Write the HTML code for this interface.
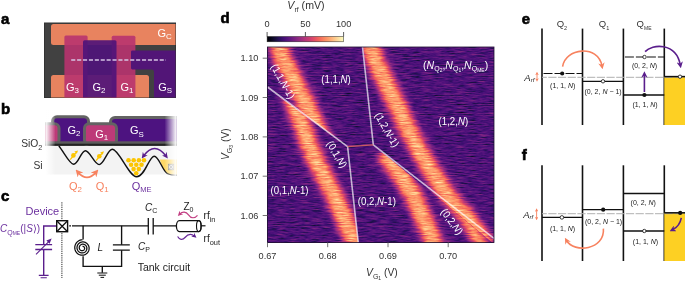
<!DOCTYPE html>
<html><head><meta charset="utf-8"><style>
html,body{margin:0;padding:0;background:#fff;}
svg{display:block;will-change:transform;}
</style></head><body>
<svg width="685" height="281" viewBox="0 0 685 281">
<defs>
<linearGradient id="cbar" x1="0" x2="1" y1="0" y2="0">
<stop offset="0.00" stop-color="rgb(0,0,3)"/><stop offset="0.05" stop-color="rgb(6,5,25)"/><stop offset="0.10" stop-color="rgb(20,13,54)"/><stop offset="0.15" stop-color="rgb(37,17,85)"/><stop offset="0.20" stop-color="rgb(59,15,111)"/><stop offset="0.25" stop-color="rgb(80,18,123)"/><stop offset="0.30" stop-color="rgb(99,25,128)"/><stop offset="0.35" stop-color="rgb(119,33,129)"/><stop offset="0.40" stop-color="rgb(140,41,129)"/><stop offset="0.45" stop-color="rgb(161,47,126)"/><stop offset="0.50" stop-color="rgb(182,54,121)"/><stop offset="0.55" stop-color="rgb(201,62,114)"/><stop offset="0.60" stop-color="rgb(221,73,104)"/><stop offset="0.65" stop-color="rgb(237,90,95)"/><stop offset="0.70" stop-color="rgb(246,112,91)"/><stop offset="0.75" stop-color="rgb(251,136,97)"/><stop offset="0.80" stop-color="rgb(253,159,108)"/><stop offset="0.85" stop-color="rgb(254,183,125)"/><stop offset="0.90" stop-color="rgb(253,207,146)"/><stop offset="0.95" stop-color="rgb(252,231,168)"/><stop offset="1.00" stop-color="rgb(251,252,191)"/>
</linearGradient>
<filter id="hm" x="267.5" y="47" width="226.5" height="195.5" filterUnits="userSpaceOnUse" color-interpolation-filters="sRGB">
<feTurbulence type="fractalNoise" baseFrequency="0.09 0.9" numOctaves="3" seed="7" result="n"/>
<feColorMatrix in="n" type="matrix" values="0.4 0 0 0 0  0.4 0 0 0 0  0.4 0 0 0 0  0 0 0 0 1" result="ng"/>
<feGaussianBlur in="SourceGraphic" stdDeviation="0.01" result="s"/>
<feComposite in="s" in2="ng" operator="arithmetic" k2="1" k3="1" k4="0.04" result="v"/>
<feComponentTransfer in="v">
<feFuncR type="table" tableValues="0.001 0.025 0.079 0.147 0.232 0.317 0.390 0.470 0.550 0.633 0.716 0.792 0.869 0.930 0.968 0.987 0.995 0.997 0.996 0.991 0.987"/>
<feFuncG type="table" tableValues="0.000 0.021 0.054 0.069 0.060 0.072 0.100 0.132 0.161 0.188 0.215 0.244 0.288 0.353 0.440 0.536 0.624 0.719 0.813 0.906 0.991"/>
<feFuncB type="table" tableValues="0.014 0.101 0.212 0.334 0.438 0.485 0.502 0.508 0.506 0.495 0.475 0.448 0.409 0.373 0.360 0.382 0.427 0.494 0.573 0.661 0.750"/>
<feFuncA type="table" tableValues="1 1"/>
</feComponentTransfer>
</filter>
<linearGradient id="fadeL" x1="0" x2="1"><stop offset="0" stop-color="#fff" stop-opacity="1"/><stop offset="1" stop-color="#fff" stop-opacity="0"/></linearGradient>
<linearGradient id="fadeR" x1="0" x2="1"><stop offset="0" stop-color="#fff" stop-opacity="0"/><stop offset="1" stop-color="#fff" stop-opacity="1"/></linearGradient>
<marker id="ah_o" viewBox="0 0 10 10" refX="5" refY="5" markerWidth="4" markerHeight="4" orient="auto-start-reverse"><path d="M0,0 L10,5 L0,10 L3,5 z" fill="#f7825f"/></marker>
</defs>
<g id="pa">
<text x="1" y="24" font-family="Liberation Sans, sans-serif" font-size="15" font-weight="bold" stroke="#000" stroke-width="0.6">a</text>
<rect x="44.5" y="23" width="131" height="74.5" fill="#414141" stroke="#333" stroke-width="1"/>
<path d="M51,26.5 Q51,24 53.5,24 L175.5,24 L175.5,45 L53.5,45 Q51,45 51,42.5 Z" fill="#e8835f"/>
<path d="M51,97.5 L51,77.5 Q51,75 53.5,75 L146.5,75 Q149,75 149,77.5 L149,97.5 Z" fill="#e8835f"/>
<path d="M64.4,97.5 L64.4,36.9 Q64.4,35.4 65.9,35.4 L86.1,35.4 Q87.6,35.4 87.6,36.9 L87.6,97.5 Z" fill="#b8336f" fill-opacity="0.9"/>
<path d="M111.7,97.5 L111.7,37.3 Q111.7,35.8 113.2,35.8 L133.9,35.8 Q135.4,35.8 135.4,37.3 L135.4,97.5 Z" fill="#b8336f" fill-opacity="0.9"/>
<path d="M83,97.5 L83,41.7 Q83,40.2 84.5,40.2 L115,40.2 Q116.5,40.2 116.5,41.7 L116.5,97.5 Z" fill="#4f1379" fill-opacity="0.92"/>
<path d="M131,52 Q131,50.6 132.4,50.6 L175.5,50.6 L175.5,97.5 L154,97.5 L154,71.9 Q154,69.4 151.5,69.4 L132.4,69.4 Q131,69.4 131,68 Z" fill="#521577"/>
<line x1="71.2" y1="60" x2="166" y2="60" stroke="#d6c4e4" stroke-width="1.5" stroke-dasharray="4.1 1.8"/>
<text x="157.5" y="37.2" font-family="Liberation Sans, sans-serif" font-size="11" fill="#fff" >G<tspan font-size="7.92" dy="2.2">C</tspan></text>
<text x="66" y="90.5" font-family="Liberation Sans, sans-serif" font-size="11" fill="#fff" >G<tspan font-size="7.92" dy="2.5">3</tspan></text>
<text x="92.5" y="90.5" font-family="Liberation Sans, sans-serif" font-size="11" fill="#fff" >G<tspan font-size="7.92" dy="2.5">2</tspan></text>
<text x="120.5" y="90.5" font-family="Liberation Sans, sans-serif" font-size="11" fill="#fff" >G<tspan font-size="7.92" dy="2.5">1</tspan></text>
<text x="158.3" y="90.5" font-family="Liberation Sans, sans-serif" font-size="11" fill="#fff" >G<tspan font-size="7.92" dy="2.5">S</tspan></text>
</g>
<g id="pb">
<text x="1" y="114.2" font-family="Liberation Sans, sans-serif" font-size="15" font-weight="bold" stroke="#000" stroke-width="0.6">b</text>
<rect x="46" y="145.5" width="131" height="29" fill="#f3f3f3"/>
<rect x="52.5" y="116.7" width="36" height="27.799999999999997" rx="4.5" fill="#4d1380" stroke="#636363" stroke-width="3"/>
<rect x="110.5" y="117.5" width="73" height="27" rx="4.5" fill="#4d1380" stroke="#636363" stroke-width="3"/>
<rect x="39.5" y="123.8" width="19.5" height="20.700000000000003" rx="4.5" fill="#bd3a78" stroke="#636363" stroke-width="3"/>
<rect x="84.5" y="123.8" width="32" height="20.700000000000003" rx="4.5" fill="#bd3a78" stroke="#636363" stroke-width="3"/>
<rect x="40" y="141.3" width="140" height="2.6" fill="#5c5c5c"/>
<rect x="40" y="143.7" width="140" height="2" fill="#222"/>
<text x="67.5" y="133.5" font-family="Liberation Sans, sans-serif" font-size="11" fill="#fff" >G<tspan font-size="7.92" dy="2.5">2</tspan></text>
<text x="95.3" y="137.8" font-family="Liberation Sans, sans-serif" font-size="11" fill="#fff" >G<tspan font-size="7.92" dy="2.5">1</tspan></text>
<text x="130" y="134" font-family="Liberation Sans, sans-serif" font-size="11" fill="#fff" >G<tspan font-size="7.92" dy="2.5">S</tspan></text>
<path d="M160,159.5 L178,159.5 L178,175.5 L168,174 C164,172 162,166 160,160 Z" fill="#fdd866"/>
<path d="M58.8,146 C64,152 69.5,164.2 73.6,164.2 C78.5,164.2 81,150.7 85.4,150.7 C90,150.7 94.5,164.6 99.2,164.6 C104,164.6 107.5,149.3 112.3,149.3 C119,149.3 129,176.8 136.6,176.8 C145,176.8 149,156.2 154.2,156.2 C159,156.2 162,170 167.3,173.5 C170,175 173,175.3 178,175.3" fill="none" stroke="#111" stroke-width="1.4"/>
<rect x="168.5" y="164.2" width="5.2" height="5.6" fill="#ddd" stroke="#777" stroke-width="0.7"/><path d="M168.5,164.2 L173.7,169.8 M173.7,164.2 L168.5,169.8" stroke="#777" stroke-width="0.6"/>
<circle cx="128.5" cy="160.2" r="2.3" fill="#fcc500"/>
<circle cx="133.7" cy="160.2" r="2.3" fill="#fcc500"/>
<circle cx="138.9" cy="160.2" r="2.3" fill="#fcc500"/>
<circle cx="144.0" cy="160.2" r="2.3" fill="#fcc500"/>
<circle cx="131.1" cy="164.7" r="2.3" fill="#fcc500"/>
<circle cx="136.3" cy="164.7" r="2.3" fill="#fcc500"/>
<circle cx="141.5" cy="164.7" r="2.3" fill="#fcc500"/>
<circle cx="133.6" cy="169.1" r="2.3" fill="#fcc500"/>
<circle cx="138.8" cy="169.1" r="2.3" fill="#fcc500"/>
<circle cx="136.2" cy="173.3" r="2.3" fill="#fcc500"/>
<circle cx="73.4" cy="155.4" r="2.3" fill="#fcc500"/>
<path d="M70.2,159.70000000000002 L76.0,152.6" stroke="#fcc500" stroke-width="1.3"/>
<path d="M78.0,150.4 L74.30000000000001,151.5 L76.9,153.8 Z" fill="#fcc500"/>
<circle cx="99.3" cy="156.3" r="2.3" fill="#fcc500"/>
<path d="M96.1,160.60000000000002 L101.89999999999999,153.5" stroke="#fcc500" stroke-width="1.3"/>
<path d="M103.89999999999999,151.3 L100.2,152.4 L102.8,154.70000000000002 Z" fill="#fcc500"/>
<rect x="45.5" y="110" width="10" height="66" fill="url(#fadeL)"/>
<rect x="20" y="110" width="25.6" height="66" fill="#fff"/>
<rect x="164.5" y="110" width="12" height="66" fill="url(#fadeR)"/>
<rect x="176.4" y="110" width="12" height="66" fill="#fff"/>
<path d="M78,172.3 Q87,182.5 96,172.3" fill="none" stroke="#f7825f" stroke-width="1.8" marker-start="url(#ah_o)" marker-end="url(#ah_o)"/>
<marker id="ah_p" viewBox="0 0 10 10" refX="5" refY="5" markerWidth="4" markerHeight="4" orient="auto-start-reverse"><path d="M0,0 L10,5 L0,10 L3,5 z" fill="#5a1e8c"/></marker>
<path d="M143.5,156 Q154.5,141 166,156" fill="none" stroke="#5a1e8c" stroke-width="1.5" marker-start="url(#ah_p)" marker-end="url(#ah_p)"/>
<text x="21.2" y="146.8" font-family="Liberation Sans, sans-serif" font-size="10.3" fill="#333">SiO<tspan font-size="7.2" dy="3.5">2</tspan></text>
<text x="33.4" y="169.2" font-family="Liberation Sans, sans-serif" font-size="10.3" fill="#333">Si</text>
<text x="69" y="189.5" font-family="Liberation Sans, sans-serif" font-size="11" fill="#f7825f" >Q<tspan font-size="7.92" dy="2.5">2</tspan></text>
<text x="95.8" y="189.5" font-family="Liberation Sans, sans-serif" font-size="11" fill="#f7825f" >Q<tspan font-size="7.92" dy="2.5">1</tspan></text>
<text x="131.8" y="189.5" font-family="Liberation Sans, sans-serif" font-size="11" fill="#6b2f9e" >Q<tspan font-size="7.5" dy="2.5">ME</tspan></text>
</g>
<g id="pc">
<text x="1" y="201.2" font-family="Liberation Sans, sans-serif" font-size="15" font-weight="bold" stroke="#000" stroke-width="0.6">c</text>
<text x="25.6" y="214.9" font-family="Liberation Sans, sans-serif" font-size="11" fill="#6b2f9e">Device</text>
<text x="0" y="231.8" font-family="Liberation Sans, sans-serif" font-size="10" fill="#6b2f9e"><tspan font-style="italic">C</tspan><tspan font-size="7" dy="2.8">Q</tspan><tspan font-size="5" dy="0.6">ME</tspan><tspan dy="-3.4">(|</tspan><tspan font-style="italic">S</tspan>⟩)</text>
<line x1="61.9" y1="202.3" x2="61.9" y2="278" stroke="#222" stroke-width="1" stroke-dasharray="1.2 1"/>
<path d="M56,226 L43.7,226 L43.7,244.6 M43.7,249.5 L43.7,275.4" fill="none" stroke="#5a1e8c" stroke-width="1.4"/>
<path d="M35.3,244.6 L52.1,244.6 M35.3,249.5 L52.1,249.5" stroke="#5a1e8c" stroke-width="1.4"/>
<path d="M36,254.3 L50,240.3" stroke="#5a1e8c" stroke-width="1.1"/><path d="M51.6,238.6 L46.4,240.6 L49.6,243.8 Z" fill="#5a1e8c"/>
<path d="M38.8,275.4 L48.6,275.4 M40.6,277.8 L46.8,277.8" stroke="#5a1e8c" stroke-width="1.1"/>
<rect x="56.7" y="220.7" width="10.9" height="11" fill="#fff" stroke="#111" stroke-width="1.4"/><path d="M56.7,220.7 L67.6,231.7 M67.6,220.7 L56.7,231.7" stroke="#111" stroke-width="1.3"/>
<path d="M69.2,225.8 L71,225.8 M72,225.8 L148.3,225.8 M153.2,225.8 L176.5,225.8" stroke="#111" stroke-width="1.35"/>
<path d="M148.3,218.1 L148.3,234.4 M153.2,218.1 L153.2,234.4" stroke="#111" stroke-width="1.3"/>
<path d="M83.1,225.8 L83.1,239.6 M83.1,256.3 L83.1,266.4 L121.6,266.4 L121.6,250.2 M121.6,244.8 L121.6,225.8 M102.3,266.4 L102.3,272.8" fill="none" stroke="#111" stroke-width="1.35"/>
<path d="M112.9,244.8 L129.8,244.8 M112.9,250.2 L129.8,250.2" stroke="#111" stroke-width="1.3"/>
<path d="M97.3,273 L107.3,273 M98.8,275.2 L105.8,275.2 M100.5,277.4 L104.1,277.4" stroke="#111" stroke-width="1"/>
<path d="M82.50,239.70 L81.72,239.77 L80.96,239.91 L80.21,240.13 L79.49,240.41 L78.81,240.76 L78.16,241.16 L77.56,241.63 L77.00,242.15 L76.50,242.71 L76.06,243.32 L75.68,243.96 L75.36,244.64 L75.10,245.34 L74.92,246.05 L74.80,246.78 L74.76,247.51 L74.78,248.24 L74.87,248.96 L75.03,249.67 L75.25,250.36 L75.53,251.01 L75.88,251.64 L76.28,252.23 L76.73,252.77 L77.23,253.27 L77.77,253.72 L78.35,254.11 L78.96,254.45 L79.59,254.72 L80.25,254.93 L80.92,255.08 L81.60,255.16 L82.27,255.18 L82.95,255.14 L83.61,255.03 L84.26,254.86 L84.89,254.63 L85.49,254.35 L86.06,254.01 L86.59,253.62 L87.07,253.19 L87.52,252.71 L87.91,252.20 L88.25,251.65 L88.54,251.08 L88.77,250.48 L88.95,249.87 L89.06,249.25 L89.12,248.63 L89.11,248.00 L89.05,247.38 L88.93,246.77 L88.75,246.18 L88.52,245.62 L88.24,245.07 L87.91,244.57 L87.54,244.09 L87.12,243.66 L86.67,243.27 L86.19,242.92 L85.68,242.63 L85.14,242.38 L84.59,242.19 L84.03,242.05 L83.46,241.97 L82.88,241.94 L82.31,241.96 L81.75,242.04 L81.20,242.17 L80.67,242.35 L80.16,242.58 L79.67,242.86 L79.22,243.17 L78.80,243.53 L78.42,243.92 L78.08,244.34 L77.78,244.80 L77.53,245.27 L77.33,245.76 L77.17,246.27 L77.07,246.79 L77.01,247.31 L77.00,247.83 L77.05,248.34 L77.14,248.85 L77.27,249.34 L77.45,249.82 L77.68,250.27 L77.94,250.70 L78.24,251.09 L78.58,251.46 L78.94,251.79 L79.34,252.08 L79.75,252.33 L80.19,252.54 L80.64,252.70 L81.10,252.83 L81.56,252.90 L82.03,252.94 L82.50,252.93 L82.96,252.87 L83.41,252.77 L83.85,252.63 L84.26,252.45 L84.66,252.24 L85.03,251.99 L85.37,251.70 L85.69,251.39 L85.97,251.06 L86.21,250.70 L86.42,250.32 L86.59,249.92 L86.72,249.52 L86.81,249.11 L86.86,248.69 L86.88,248.28 L86.85,247.86 L86.78,247.46 L86.68,247.07 L86.54,246.69 L86.37,246.33 L86.17,245.99 L85.93,245.67 L85.67,245.38 L85.39,245.11 L85.08,244.88 L84.76,244.68 L84.42,244.51 L84.07,244.38 L83.71,244.28 L83.35,244.21 L82.98,244.19 L82.62,244.19 L82.26,244.23 L81.91,244.30 L81.58,244.41 L81.25,244.54 L80.95,244.70 L80.66,244.89 L80.40,245.11 L80.16,245.34 L79.94,245.60 L79.76,245.87 L79.60,246.16 L79.47,246.45 L79.36,246.76 L79.29,247.07 L79.25,247.38 L79.24,247.69 L79.26,248.00 L79.31,248.30 L79.39,248.59 L79.49,248.87 L79.62,249.14 L79.77,249.39 L79.94,249.63 L80.13,249.84 L80.34,250.03 L80.56,250.20 L80.80,250.35 L81.04,250.47 L81.29,250.56 L81.55,250.63 L81.81,250.68 L82.07,250.70 L82.33,250.69 L82.58,250.66 L82.83,250.61 L83.07,250.53 L83.29,250.44 L83.50,250.32 L83.70,250.19 L83.88,250.04 L84.05,249.87 L84.19,249.69 L84.32,249.50 L84.42,249.31 L84.51,249.10 L84.57,248.90 L84.62,248.69 L84.64,248.48 L84.64,248.27 L84.62,248.07 L84.59,247.87 L84.53,247.68 L84.46,247.50 L84.37,247.33 L84.27,247.17 L84.15,247.02 L84.03,246.89 L83.89,246.77 L83.75,246.67 L83.59,246.59 L83.44,246.52 L83.28,246.47 L83.12,246.43 L82.96,246.41 L82.80,246.41 L82.65,246.42 L82.50,246.45" fill="none" stroke="#111" stroke-width="1.25"/>
<text x="97.6" y="251.4" font-family="Liberation Sans, sans-serif" font-size="10" font-style="italic" fill="#222">L</text>
<text x="138" y="250" font-family="Liberation Sans, sans-serif" font-size="10" fill="#222"><tspan font-style="italic">C</tspan><tspan font-size="7" dy="2">P</tspan></text>
<text x="145" y="211" font-family="Liberation Sans, sans-serif" font-size="10" fill="#222"><tspan font-style="italic">C</tspan><tspan font-size="7" dy="2">C</tspan></text>
<text x="183.4" y="210" font-family="Liberation Sans, sans-serif" font-size="10" fill="#222">Z<tspan font-size="7" dy="2.3">0</tspan></text>
<text x="203.6" y="219" font-family="Liberation Sans, sans-serif" font-size="10" fill="#222">rf<tspan font-size="7.4" dy="2.8">in</tspan></text>
<text x="203.6" y="242" font-family="Liberation Sans, sans-serif" font-size="10" fill="#222">rf<tspan font-size="7.4" dy="2.8">out</tspan></text>
<text x="137.7" y="270.5" font-family="Liberation Sans, sans-serif" font-size="10.5" fill="#222">Tank circuit</text>
<path d="M179.4,220.6 L198.8,220.6 A2.3,5.5 0 0 1 198.8,231.6 L179.4,231.6 A3,5.5 0 0 1 179.4,220.6 Z" fill="#fff" stroke="#111" stroke-width="1.3"/>
<ellipse cx="198.8" cy="226.1" rx="2.3" ry="5.5" fill="none" stroke="#111" stroke-width="1.1"/>
<path d="M201,225.8 L205.5,225.8" stroke="#111" stroke-width="1.2"/>
<marker id="ah_m" viewBox="0 0 10 10" refX="5" refY="5" markerWidth="4.2" markerHeight="4.2" orient="auto-start-reverse"><path d="M0,0 L10,5 L0,10 L3,5 z" fill="#c23d82"/></marker>
<path d="M197.5,215.3 C194.5,218.8 191,218.5 188.5,214.8 C186,211.5 182.5,211.2 179.6,214.2" fill="none" stroke="#c23d82" stroke-width="1.2" marker-end="url(#ah_m)"/>
<path d="M177.6,236.5 C179.5,239.8 182.5,240.5 185,237.5 C187.5,234.5 191,233.2 194.6,236.2" fill="none" stroke="#6a2a9a" stroke-width="1.2" marker-end="url(#ah_p)"/>
</g>
<g id="pd">
<text x="220.5" y="23.3" font-family="Liberation Sans, sans-serif" font-size="15" font-weight="bold" stroke="#000" stroke-width="0.6">d</text>
<text x="287.3" y="8.6" font-family="Liberation Sans, sans-serif" font-size="10.6" fill="#333"><tspan font-style="italic">V</tspan><tspan font-size="7" dy="3">rf</tspan><tspan dy="-3"> (mV)</tspan></text>
<rect x="267.1" y="36.5" width="76.5" height="5.3" fill="url(#cbar)" stroke="#222" stroke-width="0.5"/>
<line x1="267.1" y1="32" x2="267.1" y2="36.5" stroke="#333" stroke-width="0.8"/>
<text x="267.1" y="26.7" font-family="Liberation Sans, sans-serif" font-size="9.2" fill="#333" text-anchor="middle">0</text>
<line x1="305.4" y1="32" x2="305.4" y2="36.5" stroke="#333" stroke-width="0.8"/>
<text x="305.4" y="26.7" font-family="Liberation Sans, sans-serif" font-size="9.2" fill="#333" text-anchor="middle">50</text>
<line x1="343.6" y1="32" x2="343.6" y2="36.5" stroke="#333" stroke-width="0.8"/>
<text x="343.6" y="26.7" font-family="Liberation Sans, sans-serif" font-size="9.2" fill="#333" text-anchor="middle">100</text>
<filter id="sb" x="-30%" y="-30%" width="160%" height="160%" color-interpolation-filters="sRGB"><feGaussianBlur in="SourceGraphic" stdDeviation="3.5" result="b1"/><feGaussianBlur in="SourceGraphic" stdDeviation="10" result="b2"/><feComposite in="b1" in2="b2" operator="arithmetic" k2="1" k3="0.05"/></filter>
<clipPath id="R1"><polygon points="255,40 361.7,40 372.5,145.5 347.6,146.7 255,78"/></clipPath>
<clipPath id="R3"><polygon points="255,78 347.6,146.7 358.3,242.5 359,250 255,250"/></clipPath>
<clipPath id="R2"><polygon points="362.3,40 505,40 505,253 373.3,144.9"/></clipPath>
<clipPath id="R4"><polygon points="347.6,146.7 373.3,144.9 505,253 505,255 359,255"/></clipPath>
<g filter="url(#hm)">
<rect x="267.5" y="47" width="226.5" height="195.5" fill="#000"/>
<g clip-path="url(#R1)"><path d="M276,38 L279,47 L283,60 L289,70 L294,80 L304,100 L311,115 L318,130 L326,146" stroke-width="18.5" stroke-linecap="butt" stroke-linejoin="round" fill="none" stroke="rgb(142,142,142)" filter="url(#sb)" stroke-opacity="1.0"/></g>
<g clip-path="url(#R3)"><path d="M289,85 L292,95 L296.5,110 L301.3,123 L307.7,141 L315.5,160 L334,195 L355,243 L358,252" stroke-width="18.5" stroke-linecap="butt" stroke-linejoin="round" fill="none" stroke="rgb(142,142,142)" filter="url(#sb)" stroke-opacity="1.0"/></g>
<g clip-path="url(#R2)"><path d="M368,38 L371,47 L375,60 L392,95 L408.5,130 L424.5,160 L447,195 L454,205 L465,216 L478,233 L484,243 L487,252" stroke-width="18.5" stroke-linecap="butt" stroke-linejoin="round" fill="none" stroke="rgb(142,142,142)" filter="url(#sb)" stroke-opacity="1.0"/></g>
<g clip-path="url(#R4)"><path d="M440,185 L447,195 L454,205 L465,216 L473,230 L480,243 L484,252" stroke-linecap="butt" stroke-linejoin="round" fill="none" stroke="rgb(142,142,142)" filter="url(#sb)" stroke-width="14" stroke-opacity="0.95"/></g>
<g clip-path="url(#R4)"><path d="M384,152 L389,160 L398,171 L413,195 L430,233 L434,243 L436,252" stroke-width="18.5" stroke-linecap="butt" stroke-linejoin="round" fill="none" stroke="rgb(142,142,142)" filter="url(#sb)" stroke-opacity="1.0"/></g>
</g>
<path d="M267.5,87 L347.6,146.7 L358.3,242.5" stroke="#fff" stroke-opacity="0.68" stroke-width="1.6" fill="none"/>
<path d="M362.5,47 L373.3,144.9 L494,238.3" stroke="#fff" stroke-opacity="0.68" stroke-width="1.6" fill="none"/>
<path d="M347.6,146.7 L373.3,144.9" stroke="#e8705a" stroke-width="1.2" stroke-opacity="0.8"/>
<rect x="267.5" y="47" width="226.5" height="195.5" fill="none" stroke="#1c1030" stroke-width="0.8"/>
<line x1="262.7" y1="58.2" x2="267.5" y2="58.2" stroke="#666" stroke-width="0.9"/>
<text x="258.4" y="61.2" font-family="Liberation Sans, sans-serif" font-size="9.2" fill="#333" text-anchor="end">1.10</text>
<line x1="262.7" y1="97.5" x2="267.5" y2="97.5" stroke="#666" stroke-width="0.9"/>
<text x="258.4" y="100.5" font-family="Liberation Sans, sans-serif" font-size="9.2" fill="#333" text-anchor="end">1.09</text>
<line x1="262.7" y1="136.9" x2="267.5" y2="136.9" stroke="#666" stroke-width="0.9"/>
<text x="258.4" y="139.9" font-family="Liberation Sans, sans-serif" font-size="9.2" fill="#333" text-anchor="end">1.08</text>
<line x1="262.7" y1="176.2" x2="267.5" y2="176.2" stroke="#666" stroke-width="0.9"/>
<text x="258.4" y="179.2" font-family="Liberation Sans, sans-serif" font-size="9.2" fill="#333" text-anchor="end">1.07</text>
<line x1="262.7" y1="215.5" x2="267.5" y2="215.5" stroke="#666" stroke-width="0.9"/>
<text x="258.4" y="218.5" font-family="Liberation Sans, sans-serif" font-size="9.2" fill="#333" text-anchor="end">1.06</text>
<line x1="267.5" y1="242.5" x2="267.5" y2="247.2" stroke="#666" stroke-width="0.9"/>
<text x="267.5" y="259" font-family="Liberation Sans, sans-serif" font-size="9.2" fill="#333" text-anchor="middle">0.67</text>
<line x1="327.7" y1="242.5" x2="327.7" y2="247.2" stroke="#666" stroke-width="0.9"/>
<text x="327.7" y="259" font-family="Liberation Sans, sans-serif" font-size="9.2" fill="#333" text-anchor="middle">0.68</text>
<line x1="388.0" y1="242.5" x2="388.0" y2="247.2" stroke="#666" stroke-width="0.9"/>
<text x="388.0" y="259" font-family="Liberation Sans, sans-serif" font-size="9.2" fill="#333" text-anchor="middle">0.69</text>
<line x1="448.2" y1="242.5" x2="448.2" y2="247.2" stroke="#666" stroke-width="0.9"/>
<text x="448.2" y="259" font-family="Liberation Sans, sans-serif" font-size="9.2" fill="#333" text-anchor="middle">0.70</text>
<text x="366" y="276.3" font-family="Liberation Sans, sans-serif" font-size="10.3" fill="#333"><tspan font-style="italic">V</tspan><tspan font-size="7" dy="2.9">G</tspan><tspan font-size="5" dy="1.1">1</tspan><tspan dy="-4"> (V)</tspan></text>
<text transform="translate(229.3,160) rotate(-90)" font-family="Liberation Sans, sans-serif" font-size="10.3" fill="#333"><tspan font-style="italic">V</tspan><tspan font-size="7" dy="2.9">G</tspan><tspan font-size="5" dy="1.1">3</tspan><tspan dy="-4"> (V)</tspan></text>
<text transform="translate(321.3,82.5) rotate(0) scale(0.92,1)" font-family="Liberation Sans, sans-serif" font-size="10.5" fill="#fff">(1,1,<tspan font-style="italic">N</tspan>)</text>
<text transform="translate(438.6,124.9) rotate(0) scale(0.92,1)" font-family="Liberation Sans, sans-serif" font-size="10.5" fill="#fff">(1,2,<tspan font-style="italic">N</tspan>)</text>
<text transform="translate(270.5,194.2) rotate(0) scale(0.92,1)" font-family="Liberation Sans, sans-serif" font-size="10.5" fill="#fff">(0,1,<tspan font-style="italic">N</tspan>-1)</text>
<text transform="translate(357.8,204.8) rotate(0) scale(0.92,1)" font-family="Liberation Sans, sans-serif" font-size="10.5" fill="#fff">(0,2,<tspan font-style="italic">N</tspan>-1)</text>
<text x="423.1" y="68.7" font-family="Liberation Sans, sans-serif" font-size="10.5" fill="#fff">(<tspan font-style="italic">N</tspan><tspan font-size="7" dy="1.8">Q</tspan><tspan font-size="5" dy="1">2</tspan><tspan dy="-2.8">,</tspan><tspan font-style="italic">N</tspan><tspan font-size="7" dy="1.8">Q</tspan><tspan font-size="5" dy="1">1</tspan><tspan dy="-2.8">,</tspan><tspan font-style="italic">N</tspan><tspan font-size="7" dy="1.8">Q</tspan><tspan font-size="5" dy="1">ME</tspan><tspan dy="-2.8">)</tspan></text>
<text transform="translate(270.6,66.5) rotate(60.8) scale(0.92,1)" font-family="Liberation Sans, sans-serif" font-size="10.5" fill="#fff">(1,1,<tspan font-style="italic">N</tspan>-1)</text>
<text transform="translate(374.4,115.0) rotate(60.3) scale(0.92,1)" font-family="Liberation Sans, sans-serif" font-size="10.5" fill="#fff">(1,2,<tspan font-style="italic">N</tspan>-1)</text>
<text transform="translate(326.3,143.5) rotate(59.3) scale(0.92,1)" font-family="Liberation Sans, sans-serif" font-size="10.5" fill="#fff">(0,1,<tspan font-style="italic">N</tspan>)</text>
<text transform="translate(440.2,211.9) rotate(53) scale(0.92,1)" font-family="Liberation Sans, sans-serif" font-size="10.5" fill="#fff">(0,2,<tspan font-style="italic">N</tspan>)</text>
</g>
<g id="pe">
<text x="521.8" y="23.9" font-family="Liberation Sans, sans-serif" font-size="15" font-weight="bold" stroke="#000" stroke-width="0.6">e</text>
<line x1="542" y1="28.6" x2="542" y2="125" stroke="#111" stroke-width="1.6"/>
<line x1="582.5" y1="28.6" x2="582.5" y2="125" stroke="#111" stroke-width="1.6"/>
<line x1="623.4" y1="28.6" x2="623.4" y2="125" stroke="#111" stroke-width="1.6"/>
<line x1="664.3" y1="28.6" x2="664.3" y2="125" stroke="#111" stroke-width="1.6"/>
<text x="556.7" y="27.2" font-family="Liberation Sans, sans-serif" font-size="9.5" fill="#333" >Q<tspan font-size="5.5" dy="2.8">2</tspan></text>
<text x="598.8" y="27.2" font-family="Liberation Sans, sans-serif" font-size="9.5" fill="#333" >Q<tspan font-size="5.5" dy="2.8">1</tspan></text>
<text x="636.6" y="27.2" font-family="Liberation Sans, sans-serif" font-size="9.5" fill="#333" >Q<tspan font-size="5" dy="2.8">ME</tspan></text>
<rect x="664.3" y="76.8" width="21" height="48.2" fill="#fdd023"/>
<line x1="542" y1="77.3" x2="685" y2="77.3" stroke="#b0b0b0" stroke-width="1" stroke-dasharray="8.2 1.5" stroke-dashoffset="3.4"/>
<line x1="542" y1="73.5" x2="582.5" y2="73.5" stroke="#111" stroke-width="1.1" stroke-dasharray="9 2" stroke-dashoffset="-1.5"/>
<line x1="582.5" y1="81.3" x2="623.4" y2="81.3" stroke="#111" stroke-width="1.3"/>
<line x1="623.4" y1="57" x2="664.3" y2="57" stroke="#111" stroke-width="1.1" stroke-dasharray="9 2" stroke-dashoffset="-1.5"/>
<line x1="623.4" y1="95" x2="664.3" y2="95" stroke="#111" stroke-width="1.3"/>
<line x1="664.3" y1="76.6" x2="685" y2="76.6" stroke="#111" stroke-width="1.5"/>
<circle cx="562.2" cy="73.5" r="2.1" fill="#111"/>
<circle cx="603" cy="81.3" r="1.7" fill="#fff" stroke="#111" stroke-width="0.8"/>
<circle cx="644.5" cy="57" r="1.7" fill="#fff" stroke="#111" stroke-width="0.8"/>
<circle cx="644.4" cy="95" r="2.1" fill="#111"/>
<circle cx="680" cy="76.7" r="1.7" fill="#fff" stroke="#111" stroke-width="0.8"/>
<path d="M562.6,66.7 C565,48 598,44 602,66" fill="none" stroke="#f7825f" stroke-width="1.6" marker-end="url(#ah_o)"/>
<path d="M645.1,51.6 C652,44 676,42 680.3,65" fill="none" stroke="#5a1e8c" stroke-width="1.6" marker-end="url(#ah_p)"/>
<path d="M644.4,92 L644.4,74.5" fill="none" stroke="#5a1e8c" stroke-width="1.6" marker-end="url(#ah_p)"/>
<text x="524.3" y="80.5" font-family="Liberation Sans, sans-serif" font-size="9.5" fill="#222"><tspan font-style="italic">A</tspan><tspan font-size="6" dy="1.5" font-style="italic">rf</tspan></text>
<path d="M537,73.5 L537,80" stroke="#f7825f" stroke-width="0.9" marker-start="url(#ah_o)" marker-end="url(#ah_o)"/>
<text x="550.1" y="87.9" font-family="Liberation Sans, sans-serif" font-size="7" fill="#222">(1, 1, <tspan font-style="italic">N</tspan>)</text>
<text x="584.5" y="93.9" font-family="Liberation Sans, sans-serif" font-size="7" fill="#222">(0, 2, <tspan font-style="italic">N</tspan> − 1)</text>
<text x="631.9" y="67.7" font-family="Liberation Sans, sans-serif" font-size="7" fill="#222">(0, 2, <tspan font-style="italic">N</tspan>)</text>
<text x="632.4" y="107.2" font-family="Liberation Sans, sans-serif" font-size="7" fill="#222">(1, 1, <tspan font-style="italic">N</tspan>)</text>
</g>
<g id="pf">
<text x="521.8" y="160" font-family="Liberation Sans, sans-serif" font-size="15" font-weight="bold" stroke="#000" stroke-width="0.6">f</text>
<line x1="542" y1="165.3" x2="542" y2="261" stroke="#111" stroke-width="1.6"/>
<line x1="582.5" y1="165.3" x2="582.5" y2="261" stroke="#111" stroke-width="1.6"/>
<line x1="623.4" y1="165.3" x2="623.4" y2="261" stroke="#111" stroke-width="1.6"/>
<line x1="664.3" y1="165.3" x2="664.3" y2="261" stroke="#111" stroke-width="1.6"/>
<rect x="664.3" y="212.8" width="21" height="48.2" fill="#fdd023"/>
<line x1="542" y1="213.7" x2="685" y2="213.7" stroke="#b0b0b0" stroke-width="1" stroke-dasharray="8.2 1.5" stroke-dashoffset="3.4"/>
<line x1="542" y1="217.4" x2="582.5" y2="217.4" stroke="#111" stroke-width="1.3"/>
<line x1="582.5" y1="209.7" x2="623.4" y2="209.7" stroke="#111" stroke-width="1.3"/>
<line x1="623.4" y1="193.5" x2="664.3" y2="193.5" stroke="#111" stroke-width="1.3"/>
<line x1="623.4" y1="231" x2="664.3" y2="231" stroke="#111" stroke-width="1.3"/>
<line x1="664.3" y1="212.8" x2="685" y2="212.8" stroke="#111" stroke-width="1.5"/>
<circle cx="561.9" cy="217.4" r="1.8" fill="#fff" stroke="#111" stroke-width="0.8"/>
<circle cx="603.2" cy="209.7" r="2.1" fill="#111"/>
<circle cx="644.3" cy="231" r="1.7" fill="#fff" stroke="#111" stroke-width="0.8"/>
<circle cx="680.2" cy="212.9" r="2.1" fill="#111"/>
<path d="M603.4,228.6 C605,250 574,253.5 566.5,240.5" fill="none" stroke="#f7825f" stroke-width="1.6" marker-end="url(#ah_o)"/>
<path d="M681.3,217.8 C680,225 676,228 672.5,229.8" fill="none" stroke="#5a1e8c" stroke-width="1.6" marker-end="url(#ah_p)"/>
<text x="523.2" y="217.5" font-family="Liberation Sans, sans-serif" font-size="9.5" fill="#222"><tspan font-style="italic">A</tspan><tspan font-size="6" dy="1.5" font-style="italic">rf</tspan></text>
<path d="M536.6,210 L536.6,218.5" stroke="#f7825f" stroke-width="0.9" marker-start="url(#ah_o)" marker-end="url(#ah_o)"/>
<text x="549.9" y="230.5" font-family="Liberation Sans, sans-serif" font-size="7" fill="#222">(1, 1, <tspan font-style="italic">N</tspan>)</text>
<text x="585" y="224.3" font-family="Liberation Sans, sans-serif" font-size="7" fill="#222">(0, 2, <tspan font-style="italic">N</tspan> − 1)</text>
<text x="630.6" y="204.7" font-family="Liberation Sans, sans-serif" font-size="7" fill="#222">(0, 2, <tspan font-style="italic">N</tspan>)</text>
<text x="632.8" y="244" font-family="Liberation Sans, sans-serif" font-size="7" fill="#222">(1, 1, <tspan font-style="italic">N</tspan>)</text>
</g>
</svg>
</body></html>
